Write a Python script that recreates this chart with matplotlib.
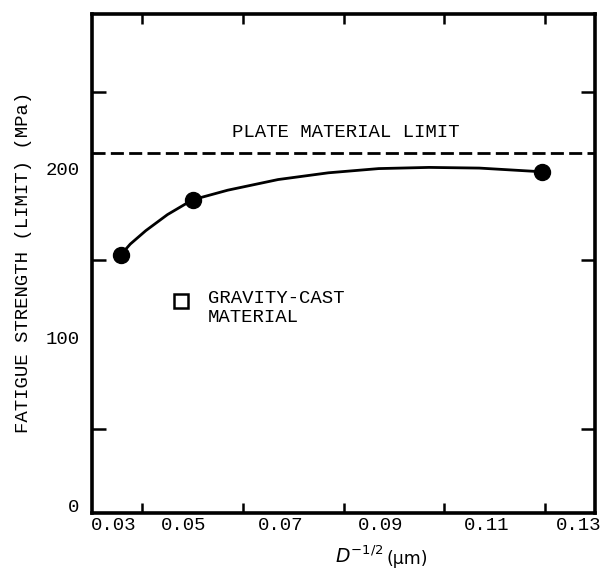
import matplotlib
matplotlib.use("Agg")
import matplotlib.pyplot as plt
import matplotlib.transforms as mtransforms

# ---- data ----
dot_x = [0.0357, 0.050, 0.1195]
dot_y = [153, 185.8, 202.4]

curve_x = [0.0357, 0.0376, 0.0407, 0.045, 0.050, 0.057, 0.067, 0.077, 0.087, 0.097, 0.107, 0.1195]
curve_y = [153, 159.5, 167.5, 177, 185.8, 191.5, 197.8, 201.8, 204.3, 205, 204.6, 202.4]

cast_x = [0.0477]
cast_y = [125.8]

plate_limit = 213.6

xtick_labels = ["0.03", "0.05", "0.07", "0.09", "0.11", "0.13"]
xtick_values = [0.03, 0.05, 0.07, 0.09, 0.11, 0.13]
xminor_values = [0.04, 0.05, 0.06, 0.07, 0.08, 0.09, 0.10, 0.11, 0.12]
ytick_values = [0, 100, 200]
ytick_labels = ["0", "100", "200"]
yminor_values = [50, 100, 150, 200, 250]

W, H = 607, 569
fig = plt.figure(figsize=(W / 100, H / 100), dpi=100)
ax = fig.add_axes([92 / W, 1 - 513 / H, (595 - 92) / W, (513 - 14) / H])

mono = "Liberation Mono"
fs = 13.7

ax.plot(curve_x, curve_y, color="black", lw=2.0, solid_capstyle="round",
        solid_joinstyle="round")
ax.plot(dot_x, dot_y, "o", color="black", ms=11.5)
ax.plot(cast_x, cast_y, "s", mfc="white", mec="black", mew=1.8, ms=9.5)
ax.axhline(plate_limit, color="black", lw=2.0, linestyle=(0, (4.7, 1.9)))

ax.text(0.0578, 223, "PLATE MATERIAL LIMIT", family=mono, fontsize=fs,
        ha="left", va="baseline")
ax.text(0.0531, 132, "GRAVITY-CAST\nMATERIAL", family=mono, fontsize=fs,
        ha="left", va="top", linespacing=1.1)

ax.set_xlim(0.03, 0.13)
ax.set_ylim(0, 296)

# major ticks: labels only
ax.set_xticks(xtick_values)
ax.set_xticklabels(xtick_labels, family=mono, fontsize=fs)
ax.set_yticks(ytick_values)
ax.set_yticklabels(ytick_labels, family=mono, fontsize=fs)
ax.tick_params(axis="both", which="major", length=0)
ax.tick_params(axis="x", which="major", pad=3)
ax.tick_params(axis="y", which="major", pad=9)

# minor ticks: inward marks on all sides
ax.set_xticks(xminor_values, minor=True)
ax.set_yticks(yminor_values, minor=True)
ax.tick_params(axis="x", which="minor", direction="in", length=7.5, width=1.8,
               top=True, bottom=True)
ax.tick_params(axis="y", which="minor", direction="in", length=10, width=1.8,
               left=True, right=True)

# shift tick labels slightly as typed in the original
x_offsets = [22, -9, -13, -13, -8, -16]
for lab, dx in zip(ax.get_xticklabels(), x_offsets):
    lab.set_transform(lab.get_transform() +
                      mtransforms.ScaledTranslation(dx / 100, 0, fig.dpi_scale_trans))
for lab in ax.get_yticklabels():
    lab.set_transform(lab.get_transform() +
                      mtransforms.ScaledTranslation(0, 7 / 100, fig.dpi_scale_trans))

for s in ax.spines.values():
    s.set_linewidth(2.6)

fig.text(24 / W, 1 - 262 / H, "FATIGUE STRENGTH (LIMIT) (MPa)", family=mono,
         fontsize=fs, rotation=90, ha="center", va="center")

fig.text(335 / W, 1 - 563 / H, r"$D^{-1/2}$", fontsize=13.5, ha="left",
         va="baseline", family="DejaVu Sans")
fig.text(387 / W, 1 - 564 / H, "(µm)", fontsize=12.5, ha="left", va="baseline",
         family="DejaVu Sans")

fig.savefig("out.png", dpi=100)
